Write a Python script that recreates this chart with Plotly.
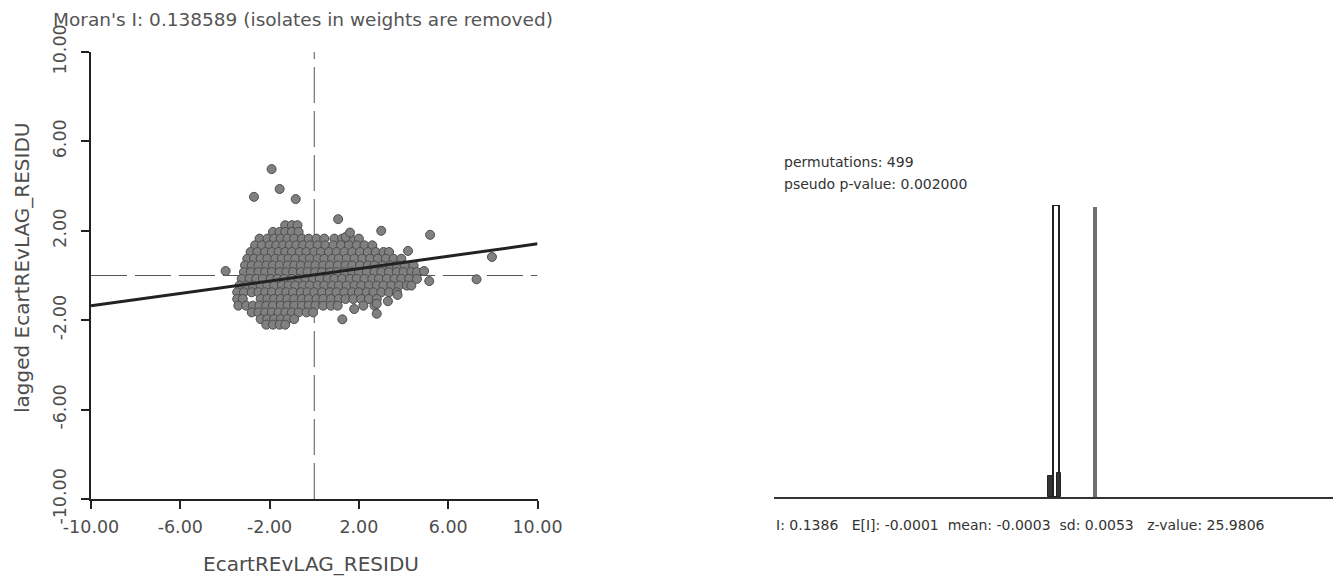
import plotly.graph_objects as go

# ---------------- data ----------------
moran_i = 0.138589
reg_intercept = 0.03
axis_ticks = [-10, -6, -2, 2, 6, 10]
axis_ticktext = ["-10.00", "-6.00", "-2.00", "2.00", "6.00", "10.00"]

# dense cloud of points read row by row (y level -> x values)
cloud_rows = {
    2.25: [-1.3, -1.0, -0.75],
    1.95: [-1.85, -1.55, -1.3, -1.0, -0.7],
    1.65: [-2.45, -2.1, -1.8, -1.5, -1.2, -0.9, -0.55, -0.25, 0.1, 0.45, 0.9, 1.25, 1.65, 2.0],
    1.35: [-2.65, -2.35, -2.0, -1.7, -1.4, -1.1, -0.8, -0.5, -0.2, 0.15, 0.5, 0.85, 1.2, 1.55, 1.9,
           2.25, 2.6],
    1.05: [-2.85, -2.55, -2.2, -1.9, -1.6, -1.3, -1.0, -0.65, -0.35, 0.0, 0.3, 0.65, 1.0, 1.35, 1.7,
           2.05, 2.4, 2.75, 3.1, 3.35],
    0.75: [-3.0, -2.7, -2.4, -2.1, -1.75, -1.45, -1.15, -0.85, -0.5, -0.2, 0.15, 0.45, 0.8, 1.1, 1.45,
           1.8, 2.15, 2.5, 2.85, 3.2, 3.55, 3.9],
    0.45: [-3.1, -2.8, -2.5, -2.15, -1.85, -1.55, -1.2, -0.9, -0.6, -0.25, 0.05, 0.4, 0.7, 1.05, 1.4,
           1.7, 2.05, 2.4, 2.7, 3.05, 3.4, 3.7, 4.05, 4.45],
    0.15: [-3.15, -2.85, -2.5, -2.2, -1.9, -1.55, -1.25, -0.95, -0.6, -0.3, 0.05, 0.35, 0.7, 1.0, 1.35,
           1.7, 2.0, 2.35, 2.7, 3.0, 3.35, 3.7, 4.0, 4.35, 4.6],
    -0.15: [-3.25, -2.9, -2.6, -2.3, -1.95, -1.65, -1.35, -1.0, -0.7, -0.4, -0.05, 0.25, 0.6, 0.9, 1.25,
            1.6, 1.9, 2.25, 2.6, 2.9, 3.25, 3.6, 3.9, 4.25, 4.6],
    -0.45: [-3.35, -3.05, -2.75, -2.4, -2.1, -1.8, -1.45, -1.15, -0.85, -0.5, -0.2, 0.15, 0.45, 0.8, 1.1,
            1.45, 1.8, 2.1, 2.45, 2.8, 3.1, 3.45, 3.8, 4.15, 4.35],
    -0.75: [-3.45, -3.15, -2.8, -2.5, -2.2, -1.9, -1.55, -1.25, -0.95, -0.6, -0.3, 0.0, 0.35, 0.7, 1.0,
            1.35, 1.7, 2.0, 2.35, 2.65, 3.0, 3.35, 3.7],
    -1.05: [-3.45, -3.2, -2.4, -2.1, -1.8, -1.5, -1.2, -0.9, -0.55, -0.25, 0.1, 0.4, 0.75, 1.1, 1.4,
            1.75, 2.1, 2.45, 2.8],
    -1.35: [-3.4, -3.05, -2.75, -2.45, -2.15, -1.85, -1.5, -1.2, -0.9, -0.55, -0.25, 0.05, 0.4, 0.75,
            1.05, 2.2, 2.7],
    -1.65: [-2.8, -2.5, -2.2, -1.9, -1.6, -1.3, -1.0, -0.7, -0.35, -0.05],
    -1.95: [-2.4, -2.1, -1.8, -1.5, -1.2, -0.9],
    -2.2: [-2.15, -1.85, -1.55, -1.3],
}

outlier_x = [-1.91, -1.55, -2.70, -0.83, 1.07, 1.41, 1.60, 3.0, 5.19, 4.20, 7.96, 7.27, 5.15, 4.92,
             -3.97, 1.79, 1.26, 2.80, 2.80, 3.73, 3.30]
outlier_y = [4.76, 3.87, 3.52, 3.42, 2.52, 1.72, 1.92, 2.0, 1.82, 1.10, 0.83, -0.17, -0.25, 0.20,
             0.20, -1.50, -1.96, -1.26, -1.71, -0.87, -1.15]

# permutation histogram
perm_bin_centers = [0.0007, -0.019, 0.010]
perm_bin_counts = [433, 31, 35]
perm_bin_widths = [0.020, 0.018, 0.015]
ref_bar_height = 430

title_text = "Moran's I: 0.138589 (isolates in weights are removed)"
x_title = "EcartREvLAG_RESIDU"
y_title = "lagged EcartREvLAG_RESIDU"
perm_text = "permutations: 499"
pval_text = "pseudo p-value: 0.002000"
NB = "\u00a0"
stats_text = ("I: 0.1386" + NB * 3 + "E[I]: -0.0001" + NB * 2 + "mean: -0.0003" + NB * 2 +
              "sd: 0.0053" + NB * 3 + "z-value: 25.9806")

# ---------------- figure ----------------
OFF = 8  # page body margin in the browser
W, H = 1341 - OFF, 579 - OFF
FONT = "DejaVu Sans"
TXT = "#4d4d4d"


def px_x(p):
    return (p - OFF) / W


def px_y(p):
    return 1 - (p - OFF) / H


cloud_x, cloud_y = [], []
for yv, xs in cloud_rows.items():
    for xv in xs:
        cloud_x.append(xv)
        cloud_y.append(yv)

fig = go.Figure()

# dashed reference lines at 0
fig.add_trace(go.Scatter(x=[-10, 10], y=[0, 0], mode="lines",
                         line=dict(color="#555555", width=1, dash="36px,8px"),
                         hoverinfo="skip", showlegend=False))
fig.add_trace(go.Scatter(x=[0, 0], y=[-10, 10], mode="lines",
                         line=dict(color="#555555", width=1, dash="36px,8px"),
                         hoverinfo="skip", showlegend=False))

marker_style = dict(size=9, color="#808080", line=dict(color="#4d4d4d", width=1))
fig.add_trace(go.Scatter(x=cloud_x, y=cloud_y, mode="markers", marker=marker_style,
                         showlegend=False))
fig.add_trace(go.Scatter(x=outlier_x, y=outlier_y, mode="markers", marker=marker_style,
                         showlegend=False))

# regression line
reg_x = [-10, 10]
reg_y = [reg_intercept + moran_i * v for v in reg_x]
fig.add_trace(go.Scatter(x=reg_x, y=reg_y, mode="lines", line=dict(color="#222222", width=3),
                         showlegend=False))

# histogram: tall bar, small bars, Moran's I reference
fig.add_trace(go.Bar(x=perm_bin_centers[:1], y=perm_bin_counts[:1], width=perm_bin_widths[:1],
                     marker=dict(color="#ffffff", line=dict(color="#222222", width=2)),
                     xaxis="x2", yaxis="y2", showlegend=False))
fig.add_trace(go.Bar(x=perm_bin_centers[1:], y=perm_bin_counts[1:], width=perm_bin_widths[1:],
                     marker=dict(color="#333333", line=dict(color="#222222", width=1)),
                     xaxis="x2", yaxis="y2", showlegend=False))
fig.add_trace(go.Bar(x=[moran_i], y=[ref_bar_height], width=[0.016],
                     marker=dict(color="#707070", line=dict(width=0)),
                     xaxis="x2", yaxis="y2", showlegend=False))

axis_common = dict(showgrid=False, zeroline=False, showline=True, linecolor="#222222",
                   linewidth=2, ticks="outside", ticklen=8, tickwidth=2, tickcolor="#222222",
                   tickvals=axis_ticks, ticktext=axis_ticktext, range=[-10, 10],
                   automargin=False,
                   tickfont=dict(family=FONT, size=17.5, color=TXT))

fig.update_layout(
    template="none",
    width=W, height=H, autosize=False,
    margin=dict(l=0, r=0, t=0, b=0, pad=0),
    paper_bgcolor="white", plot_bgcolor="white",
    barmode="overlay", bargap=0,
    xaxis=dict(domain=[px_x(91), px_x(537.5)], anchor="y", ticklabelstandoff=3, **axis_common),
    yaxis=dict(domain=[px_y(499), px_y(52)], anchor="x", tickangle=-90, ticklabelstandoff=8,
               **axis_common),
    xaxis2=dict(domain=[px_x(774), min(1.0, px_x(1334))], anchor="y2", range=[-1.007, 0.993],
                showgrid=False, zeroline=False, showline=True, linecolor="#333333", linewidth=1.5,
                ticks="", showticklabels=False, automargin=False),
    yaxis2=dict(domain=[px_y(497), px_y(205)], anchor="x2", range=[0, 433],
                showgrid=False, zeroline=False, showline=False, ticks="", showticklabels=False,
                automargin=False),
    showlegend=False,
)

ann = [
    dict(text=title_text, x=px_x(51), y=px_y(20), xanchor="left", yanchor="middle",
         font=dict(family=FONT, size=18.5, color="#555555")),
    dict(text=x_title, x=px_x(311), y=px_y(564), xanchor="center", yanchor="middle",
         font=dict(family=FONT, size=20, color=TXT)),
    dict(text=y_title, x=px_x(22), y=px_y(268), xanchor="center", yanchor="middle", textangle=-90,
         font=dict(family=FONT, size=20, color=TXT)),
    dict(text=perm_text, x=px_x(782), y=px_y(162), xanchor="left", yanchor="middle",
         font=dict(family=FONT, size=14, color="#333333")),
    dict(text=pval_text, x=px_x(782), y=px_y(184), xanchor="left", yanchor="middle",
         font=dict(family=FONT, size=14, color="#333333")),
    dict(text=stats_text, x=px_x(774), y=px_y(525), xanchor="left", yanchor="middle",
         font=dict(family=FONT, size=14, color="#333333")),
]
for a in ann:
    a.update(xref="paper", yref="paper", showarrow=False)
fig.update_layout(annotations=ann)

fig.write_html("out.html")
